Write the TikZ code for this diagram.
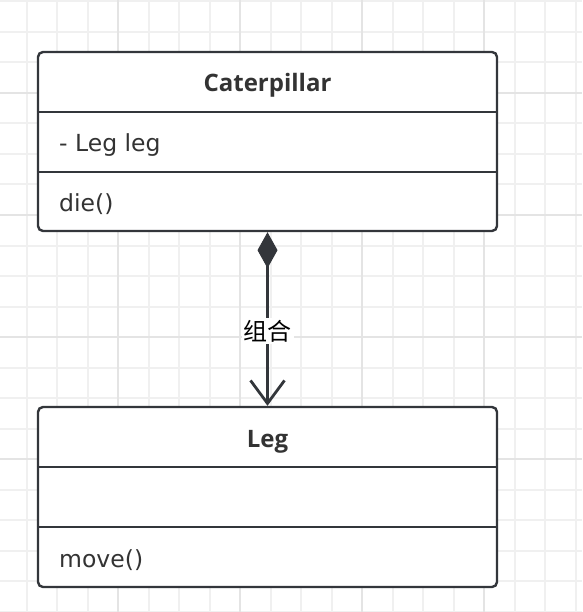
\documentclass[tikz,border=0pt]{standalone}
\usepackage{fontspec}
\setmainfont{DejaVu Sans}
\newfontfamily\titlefont{Open Sans}
\newfontfamily\cjkfont{Noto Sans CJK SC}
\usepackage{xcolor}
\usepackage{tikz}
\usetikzlibrary{arrows.meta, positioning}
\definecolor{umlline}{HTML}{33363B}
\definecolor{umltext}{HTML}{333333}
\definecolor{gridminor}{HTML}{F0F0F0}
\definecolor{gridmajor}{HTML}{E4E4E4}

\begin{document}
\begin{tikzpicture}[x=1pt, y=-1pt,
    classbox/.style={draw=umlline, line width=2.4pt, rounded corners=5pt, fill=white,
        minimum width=459pt, minimum height=179pt, inner sep=0pt},
    classname/.style={font=\titlefont\fontsize{24}{28}\selectfont\bfseries, text=umltext,
        anchor=base, inner sep=0pt},
    member/.style={font=\fontsize{23.5}{28}\selectfont, text=umltext, anchor=base west, inner sep=0pt},
    compose/.style={draw=umlline, line width=3.2pt,
        {Diamond[length=36pt, width=20pt, line width=1pt]}-{Straight Barb[length=23pt, width=34pt, line width=2.8pt]}}]
    \useasboundingbox (0,0) rectangle (582,612);

    % Background grid
    \foreach \i in {0,...,18}
        \draw[gridminor, line width=2pt] (26.5+30.5*\i,0) -- (26.5+30.5*\i,612);
    \foreach \j in {0,...,20}
        \draw[gridminor, line width=2pt] (0,1.5+30.5*\j) -- (582,1.5+30.5*\j);
    \foreach \gx in {118, 240, 362, 484}
        \draw[gridmajor, line width=2pt] (\gx,0) -- (\gx,612);
    \foreach \gy in {93, 215, 337, 459}
        \draw[gridmajor, line width=2pt] (0,\gy) -- (582,\gy);

    % Caterpillar class
    \node[classbox] (cat) at (267.5,141.5) {};
    \node[classname] (catName) at (267.5,91.5) {Caterpillar};
    \node[member] (catAttr) at (59,151.5) {- Leg leg};
    \node[member] (catOp) at (59,211.5) {die()};
    \draw[umlline, line width=2.4pt] (cat.west |- 0,112) -- (cat.east |- 0,112);
    \draw[umlline, line width=2.4pt] (cat.west |- 0,172) -- (cat.east |- 0,172);

    % Leg class
    \node[classbox, minimum height=180pt] (leg) at (267.5,497) {};
    \node[classname] (legName) at (267.5,447.5) {Leg};
    \node[member] (legOp) at (59,567.5) {move()};
    \draw[umlline, line width=2.4pt] (leg.west |- 0,467) -- (leg.east |- 0,467);
    \draw[umlline, line width=2.4pt] (leg.west |- 0,527) -- (leg.east |- 0,527);

    % Composition
    \draw[compose] (cat.south) -- node[pos=0.57, fill=white, inner sep=2pt,
        font=\cjkfont\fontsize{24}{28}\selectfont, text=black] (rel) {组合} (leg.north);
\end{tikzpicture}
\end{document}
